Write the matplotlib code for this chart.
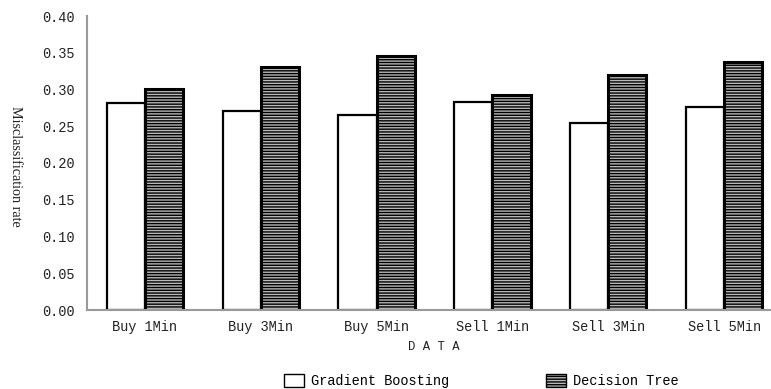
import numpy as np
import matplotlib.pyplot as plt
from matplotlib.patches import Patch

plt.rcParams['hatch.linewidth'] = 1.0

categories = ['Buy 1Min', 'Buy 3Min', 'Buy 5Min', 'Sell 1Min', 'Sell 3Min', 'Sell 5Min']
gradient_boosting = [0.282, 0.271, 0.265, 0.283, 0.254, 0.276]
decision_tree = [0.301, 0.331, 0.346, 0.293, 0.320, 0.338]

W, H = 771, 389
fig = plt.figure(figsize=(W / 100, H / 100), dpi=100)
ax = fig.add_axes([87 / W, (H - 310) / H, (782 - 87) / W, (310 - 16) / H])

x = np.arange(len(categories))
bw = 0.33
ax.bar(x - bw / 2, gradient_boosting, bw, color='white', edgecolor='black', linewidth=1.6,
       label='Gradient Boosting')
ax.bar(x + bw / 2, decision_tree, bw, color='#b8b8b8', edgecolor='black', linewidth=2.2,
       hatch='------', label='Decision Tree')

ax.set_xlim(-0.5, len(categories) - 0.5)
ax.set_ylim(0, 0.40)
ax.set_yticks(np.arange(0, 0.41, 0.05))
ax.set_yticklabels([f'{v:.2f}' for v in np.arange(0, 0.41, 0.05)])
ax.set_xticks(x)
ax.set_xticklabels(categories)

mono = 'Liberation Mono'
fs = 9.8
for lbl in ax.get_xticklabels() + ax.get_yticklabels():
    lbl.set_fontfamily(mono)
    lbl.set_fontsize(fs)
    lbl.set_color('#222222')
ax.tick_params(axis='y', length=0, pad=9)
ax.tick_params(axis='x', length=0, pad=7)

for s in ['top', 'right']:
    ax.spines[s].set_visible(False)
for s in ['left', 'bottom']:
    ax.spines[s].set_color('#999999')
    ax.spines[s].set_linewidth(1.5)

fig.text(434 / W, 1 - 347 / H, 'D A T A', ha='center', va='center', fontfamily=mono,
         fontsize=fs - 1, color='#222222')
fig.text(15 / W, 1 - 166 / H, 'Misclassification rate', rotation=270, ha='center',
         va='center', fontfamily='Liberation Serif', fontsize=10.2, color='#222222')

handles = [Patch(facecolor='white', edgecolor='black', linewidth=1.0),
           Patch(facecolor='#b8b8b8', edgecolor='black', linewidth=1.0, hatch='------')]
leg = fig.legend(handles, ['Gradient Boosting', 'Decision Tree'], loc='center',
                 bbox_to_anchor=(481 / W, 1 - 381 / H), ncol=2, frameon=False,
                 prop={'family': mono, 'size': fs}, columnspacing=7.1,
                 handlelength=1.5, handleheight=1.1, handletextpad=0.5)

fig.savefig('out.png', dpi=100)
